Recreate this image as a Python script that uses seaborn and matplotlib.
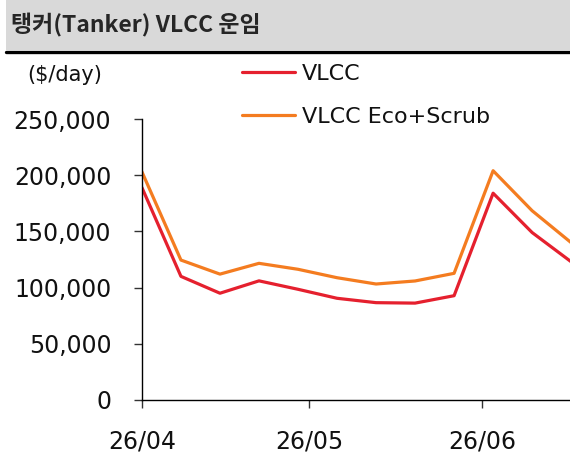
import pandas as pd
import matplotlib
matplotlib.use('Agg')
import matplotlib.pyplot as plt
import matplotlib.dates as mdates
from matplotlib.ticker import FuncFormatter
from matplotlib.patches import Rectangle
from matplotlib.lines import Line2D
import seaborn as sns

# weekly VLCC earnings ($/day)
dates = pd.date_range('2026-04-01', periods=12, freq='7D')
vlcc = [189000, 110000, 95000, 106000, 98500, 90500, 86600, 86200, 92800, 184000, 149000, 123000]
vlcc_eco = [203000, 124500, 112000, 121600, 116300, 108800, 103200, 105900, 112700, 204000, 168400, 140000]
series_names = ['VLCC', 'VLCC Eco+Scrub']

df = pd.DataFrame({
    'date': list(dates) * 2,
    'rate': vlcc + vlcc_eco,
    'series': [series_names[0]] * len(dates) + [series_names[1]] * len(dates),
})

sns.set_style('white')
plt.rcParams['font.family'] = ['DejaVu Sans', 'Noto Sans CJK KR']

fig = plt.figure(figsize=(5.7, 4.68), dpi=100)
ax = fig.add_axes([0.249, 0.1453, 0.753, 0.6004])

palette = {'VLCC': '#E5202E', 'VLCC Eco+Scrub': '#F47C20'}
sns.lineplot(data=df, x='date', y='rate', hue='series', palette=palette,
             linewidth=2.3, ax=ax, legend=False)

ax.set_ylim(0, 250000)
ax.set_xlim(pd.Timestamp('2026-04-01'), pd.Timestamp('2026-06-17'))
ax.set_yticks(range(0, 250001, 50000))
ax.yaxis.set_major_formatter(FuncFormatter(lambda v, p: f'{int(v):,}'))
ax.xaxis.set_major_locator(mdates.MonthLocator())
ax.xaxis.set_major_formatter(mdates.DateFormatter('%y/%m'))
ax.set_xlabel('')
ax.set_ylabel('')

for s in ['top', 'right']:
    ax.spines[s].set_visible(False)
for s in ['left', 'bottom']:
    ax.spines[s].set_color('black')
    ax.spines[s].set_linewidth(1.0)
ax.tick_params(axis='both', bottom=True, left=True, direction='out', length=6, width=1,
               color='#333333', labelsize=17, labelcolor='#111111')
ax.tick_params(axis='y', pad=16)
ax.tick_params(axis='x', pad=15)

# legend
handles = [Line2D([], [], color=palette[n], linewidth=2.3) for n in series_names]
fig.legend(handles, series_names, loc='upper left', bbox_to_anchor=(0.4246, 0.864),
           frameon=False, fontsize=16, handlelength=2.4, labelspacing=1.05,
           handletextpad=0.3, borderaxespad=0, borderpad=0, labelcolor='#111111')

fig.text(27 / 570, 1 - 75 / 468, '($/day)', fontsize=15, va='center', ha='left', color='#111111')

# title bar
fig.patches.append(Rectangle((6 / 570, 1 - 50 / 468), 1, 50 / 468, transform=fig.transFigure,
                             facecolor='#D9D9D9', edgecolor='none', zorder=0))
fig.lines.append(Line2D([6 / 570, 1], [1 - 51.5 / 468, 1 - 51.5 / 468], transform=fig.transFigure,
                        color='black', linewidth=2.4))
fig.text(11 / 570, 1 - 25 / 468, '탱커(Tanker) VLCC 운임', fontsize=16.5, fontweight='bold',
         family=['Noto Sans CJK KR', 'DejaVu Sans'], va='center', ha='left')

fig.savefig('out.png', dpi=100)
